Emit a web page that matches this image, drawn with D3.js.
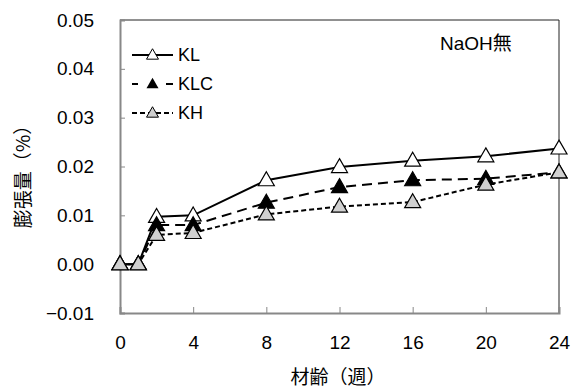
<!DOCTYPE html>
<html>
  <head>
    <meta charset="utf-8">
    <title>膨張量</title>
    <script src="https://d3js.org/d3.v7.min.js"></script>
    <style>
      body { margin: 0; background: #fff; }
      text { font-family: "Liberation Sans", Arial, sans-serif; fill: #000; }
      .jp { font-family: "Noto Sans CJK JP", sans-serif; }
    </style>
  </head>
  <body>
    <script>
    var w = 581, h = 389;
    var m = {left: 120, right: 22, top: 20, bottom: 76};

    // data
    var weeks = [0, 1, 2, 4, 8, 12, 16, 20, 24];
    var kl  = [0, 0, 0.0097, 0.0100, 0.0172, 0.0199, 0.0212, 0.0221, 0.0237];
    var klc = [0, 0, 0.0080, 0.0080, 0.0126, 0.0158, 0.0172, 0.0175, 0.0188];
    var kh  = [0, 0, 0.0060, 0.0064, 0.0102, 0.0118, 0.0127, 0.0163, 0.0188];
    var xTicks = [0, 4, 8, 12, 16, 20, 24];
    var yTicks = [-0.01, 0, 0.01, 0.02, 0.03, 0.04, 0.05];

    var series = [
      {name: "KL",  values: kl,  fill: "#fff",    dash: null},
      {name: "KLC", values: klc, fill: "#000",    dash: "10,6"},
      {name: "KH",  values: kh,  fill: "#d0d0d0", dash: "5,3"}
    ];

    var svg = d3.select("body").append("svg")
      .attr("width", w).attr("height", h);

    var x = d3.scaleLinear().domain([0, 24]).range([m.left, w - m.right]);
    var y = d3.scaleLinear().domain([-0.01, 0.05]).range([h - m.bottom, m.top]);

    // frame: top/right dark, left/bottom grey axes
    svg.append("line")
      .attr("x1", x(0)).attr("x2", x(24)).attr("y1", y(0.05)).attr("y2", y(0.05))
      .attr("stroke", "#222").attr("stroke-width", 1);
    svg.append("line")
      .attr("x1", x(24)).attr("x2", x(24)).attr("y1", y(0.05)).attr("y2", y(-0.01))
      .attr("stroke", "#222").attr("stroke-width", 1);

    var yAxis = svg.append("g")
      .attr("transform", "translate(" + x(0) + ",0)")
      .call(d3.axisLeft(y).tickValues(yTicks).tickSize(-5).tickPadding(26)
        .tickFormat(function(d){ return d < 0 ? "\u22120.01" : d3.format(".2f")(d) }));
    var xAxis = svg.append("g")
      .attr("transform", "translate(0," + y(-0.01) + ")")
      .call(d3.axisBottom(x).tickValues(xTicks).tickSize(-6).tickPadding(23));

    [yAxis, xAxis].forEach(function(g){
      g.select(".domain").attr("stroke", "#888").attr("stroke-width", 2);
      g.selectAll(".tick line").attr("stroke", "#888").attr("stroke-width", 1);
      g.selectAll(".tick text").attr("font-size", 19)
        .attr("font-family", "Liberation Sans, Arial, sans-serif").attr("fill", "#000");
    });
    xAxis.selectAll(".tick").filter(function(d){ return d === 0 || d === 24 })
      .select("line").remove();
    yAxis.selectAll(".tick").filter(function(d){ return d === 0.05 || d === -0.01 })
      .select("line").remove();

    function tri(s) {
      var hh = s * 0.87;
      return "M0," + (-hh * 0.6) + "L" + (s / 2) + "," + (hh * 0.4) + "L" + (-s / 2) + "," + (hh * 0.4) + "Z";
    }

    var line = d3.line()
      .x(function(d, i){ return x(weeks[i]) })
      .y(function(d){ return y(d) });

    series.forEach(function(s){
      svg.append("path")
        .attr("d", line(s.values))
        .attr("fill", "none").attr("stroke", "#000").attr("stroke-width", 2)
        .attr("stroke-dasharray", s.dash);
      svg.selectAll(null)
        .data(s.values)
        .enter()
        .append("path")
        .attr("d", tri(16))
        .attr("transform", function(d, i){ return "translate(" + x(weeks[i]) + "," + y(d) + ")" })
        .attr("fill", s.fill).attr("stroke", "#000").attr("stroke-width", 1.2);
    });

    // legend
    var lg = svg.append("g").attr("transform", "translate(132,55)");
    series.forEach(function(s, i){
      var row = lg.append("g").attr("transform", "translate(0," + (i * 29) + ")");
      row.append("line")
        .attr("x1", 0).attr("x2", 41).attr("y1", 0).attr("y2", 0)
        .attr("stroke", "#000").attr("stroke-width", 2)
        .attr("stroke-dasharray", s.name === "KLC" ? "6,28,7" : s.dash);
      row.append("path").attr("d", tri(12)).attr("transform", "translate(20.5,0)")
        .attr("fill", s.fill).attr("stroke", s.name === "KLC" ? "none" : "#000")
        .attr("stroke-width", 1);
      row.append("text").attr("x", 46).attr("y", 6).attr("font-size", 18).text(s.name);
    });

    svg.append("text").attr("x", 440).attr("y", 50).attr("font-size", 19)
      .text("NaOH").append("tspan").attr("class", "jp").text("無");

    svg.append("text").attr("class", "jp")
      .attr("transform", "translate(30,172) rotate(-90)")
      .attr("text-anchor", "middle").attr("font-size", 19)
      .text("膨張量（%）");

    svg.append("text").attr("class", "jp")
      .attr("x", 338).attr("y", 384)
      .attr("text-anchor", "middle").attr("font-size", 19)
      .text("材齢（週）");
    </script>
  </body>
</html>
